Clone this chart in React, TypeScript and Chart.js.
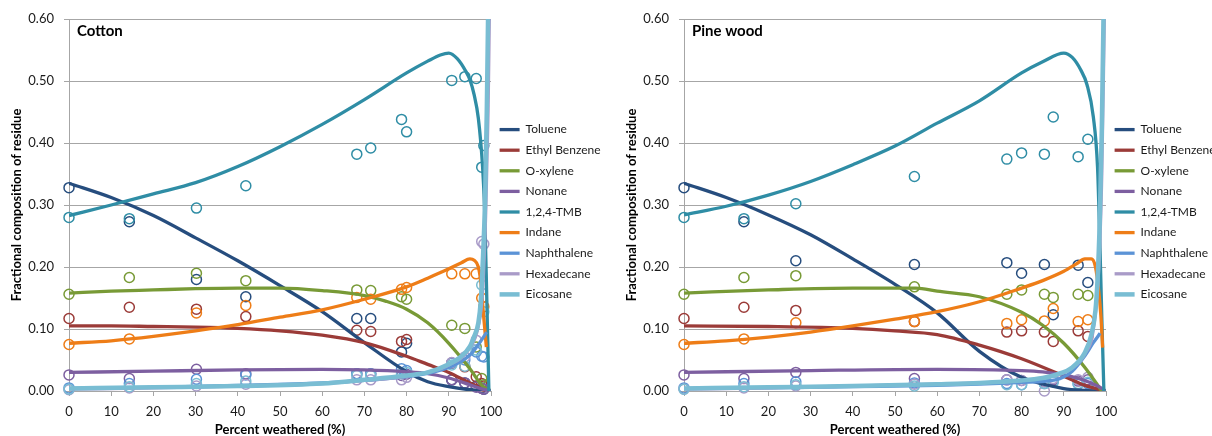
import React, { useEffect, useRef } from "react";
import { Chart, registerables } from "chart.js";

Chart.register(...registerables);

const FONT = "Lato, 'Liberation Sans', sans-serif";
Chart.defaults.font.family = FONT;

const compounds = ["Toluene", "Ethyl Benzene", "O-xylene", "Nonane", "1,2,4-TMB", "Indane", "Naphthalene", "Hexadecane", "Eicosane"];
const colors = ["#264D7E", "#9B3B38", "#789A36", "#7D5FA0", "#2F8DA5", "#EE7D17", "#5B93D6", "#A99BC8", "#79BDD3"];
const lineWidths = [3.3, 3.3, 3.3, 3.3, 3.3, 3.3, 3.3, 3.3, 4.5];
const xTitle = "Percent weathered (%)";
const yTitle = "Fractional composition of residue";

// ---- Cotton: measured fractions ----
const cottonX = [0, 14.3, 30.2, 41.9, 68.2, 71.5, 78.8, 80.0, 90.7, 93.8, 96.5, 97.8, 98.3];
const cottonToluene = [0.328, 0.273, 0.180, 0.152, 0.117, 0.117, 0.063, 0.077, 0.018, 0.013, 0.008, 0.005, 0.003];
const cottonEthylBenzene = [0.117, 0.135, 0.132, 0.120, 0.098, 0.096, 0.080, 0.083, 0.045, 0.039, 0.023, 0.012, 0.008];
const cottonOxylene = [0.156, 0.183, 0.190, 0.178, 0.163, 0.162, 0.152, 0.148, 0.106, 0.101, 0.071, 0.020, 0.010];
const cottonNonane = [0.026, 0.020, 0.035, 0.028, 0.028, 0.028, 0.025, 0.027, 0.018, 0.013, 0.006, 0.004, 0.003];
const cottonTmb = [0.280, 0.278, 0.295, 0.331, 0.382, 0.392, 0.438, 0.418, 0.501, 0.507, 0.504, 0.361, 0.396];
const cottonIndane = [0.075, 0.084, 0.126, 0.138, 0.151, 0.148, 0.164, 0.167, 0.189, 0.189, 0.189, 0.150, 0.136];
const cottonNaphthalene = [0.005, 0.012, 0.019, 0.026, 0.028, 0.028, 0.036, 0.033, 0.045, 0.050, 0.063, 0.056, 0.055];
const cottonHexadecane = [0.002, 0.005, 0.008, 0.011, 0.018, 0.018, 0.018, 0.022, 0.046, 0.055, 0.082, 0.241, 0.237];
const cottonEicosane = [0.003, 0.007, 0.012, 0.016, 0.025, 0.025, 0.028, 0.030, 0.042, 0.040, 0.066, 0.171, 0.128];

// ---- Cotton: model curves [x, y] ----
const cottonTolueneFit = [[0, 0.335], [10, 0.312], [20, 0.283], [30, 0.247], [40, 0.21], [50, 0.17], [60, 0.128], [70, 0.078], [80, 0.031], [85, 0.015], [90, 0.007], [95, 0.002], [100, 0]];
const cottonEthylBenzeneFit = [[0, 0.105], [10, 0.105], [20, 0.104], [30, 0.103], [40, 0.101], [50, 0.097], [60, 0.09], [70, 0.078], [80, 0.056], [85, 0.043], [90, 0.03], [95, 0.013], [98, 0.004], [100, 0]];
const cottonOxyleneFit = [[0, 0.158], [10, 0.161], [20, 0.163], [30, 0.165], [40, 0.166], [50, 0.166], [60, 0.162], [70, 0.154], [75, 0.145], [80, 0.132], [85, 0.11], [90, 0.077], [95, 0.036], [98, 0.008], [100, 0]];
const cottonNonaneFit = [[0, 0.03], [20, 0.032], [40, 0.034], [60, 0.035], [70, 0.034], [80, 0.031], [85, 0.028], [90, 0.021], [95, 0.01], [98, 0.003], [100, 0]];
const cottonTmbFit = [[0, 0.283], [10, 0.3], [20, 0.318], [30, 0.336], [40, 0.362], [50, 0.394], [60, 0.43], [70, 0.47], [80, 0.513], [85, 0.532], [88, 0.542], [90, 0.545], [92, 0.536], [94, 0.516], [95, 0.502], [96, 0.478], [97, 0.44], [98, 0.362], [98.5, 0.29], [99, 0.15], [99.5, 0]];
const cottonIndaneFit = [[0, 0.077], [10, 0.081], [20, 0.088], [30, 0.097], [40, 0.107], [50, 0.119], [60, 0.131], [70, 0.148], [80, 0.168], [85, 0.182], [90, 0.197], [93, 0.207], [95, 0.213], [96, 0.211], [97, 0.2], [97.6, 0.175], [98.2, 0.125], [98.9, 0.071]];
const cottonNaphthaleneFit = [[0, 0.004], [20, 0.006], [40, 0.009], [60, 0.013], [70, 0.017], [80, 0.023], [90, 0.038], [95, 0.058], [97, 0.075], [99, 0.095]];
const cottonHexadecaneFit = [[0, 0.003], [20, 0.005], [40, 0.008], [60, 0.012], [70, 0.017], [80, 0.024], [90, 0.042], [95, 0.07], [97, 0.105], [98, 0.16], [98.8, 0.3], [99.3, 0.45], [99.6, 0.6]];
const cottonEicosaneFit = [[0, 0.004], [20, 0.006], [40, 0.008], [60, 0.012], [70, 0.018], [80, 0.025], [85, 0.03], [90, 0.043], [93, 0.056], [95, 0.072], [96, 0.088], [97, 0.11], [97.6, 0.147], [98, 0.2], [98.6, 0.31], [99, 0.45], [99.3, 0.6]];

// ---- Pine wood: measured fractions ----
const pineX = [0, 14.2, 26.5, 54.6, 76.5, 80.0, 85.4, 87.5, 93.4, 95.7];
const pineToluene = [0.328, 0.273, 0.210, 0.204, 0.207, 0.190, 0.204, 0.123, 0.203, 0.175];
const pineEthylBenzene = [0.117, 0.135, 0.130, 0.112, 0.095, 0.097, 0.095, 0.080, 0.097, 0.088];
const pineOxylene = [0.156, 0.183, 0.186, 0.168, 0.156, 0.163, 0.156, 0.151, 0.156, 0.154];
const pineNonane = [0.026, 0.020, 0.030, 0.020, 0.018, 0.017, 0.015, 0.018, 0.016, 0.018];
const pineTmb = [0.280, 0.278, 0.302, 0.346, 0.374, 0.384, 0.382, 0.442, 0.378, 0.406];
const pineIndane = [0.075, 0.084, 0.110, 0.112, 0.109, 0.115, 0.113, 0.133, 0.112, 0.115];
const pineNaphthalene = [0.005, 0.012, 0.015, 0.013, 0.012, 0.010, 0.012, 0.015, 0.011, 0.012];
const pineHexadecane = [0.003, 0.005, 0.008, 0.011, 0.018, 0.017, 0.000, 0.020, 0.018, 0.022];
const pineEicosane = [0.003, 0.007, 0.010, 0.008, 0.010, 0.010, 0.012, 0.015, 0.012, 0.014];

// ---- Pine wood: model curves [x, y] ----
const pineTolueneFit = [[0, 0.335], [10, 0.312], [20, 0.284], [30, 0.252], [40, 0.213], [50, 0.172], [60, 0.126], [70, 0.064], [80, 0.022], [90, 0.004], [95, 0.001], [100, 0]];
const pineEthylBenzeneFit = [[0, 0.105], [20, 0.104], [40, 0.101], [50, 0.097], [60, 0.091], [70, 0.074], [80, 0.052], [90, 0.024], [95, 0.009], [100, 0]];
const pineOxyleneFit = [[0, 0.158], [20, 0.163], [40, 0.166], [55, 0.166], [60, 0.161], [70, 0.152], [80, 0.127], [85, 0.106], [90, 0.077], [95, 0.038], [99, 0]];
const pineNonaneFit = [[0, 0.03], [30, 0.033], [60, 0.035], [80, 0.033], [85, 0.031], [90, 0.026], [95, 0.017], [98, 0.008], [100, 0]];
const pineTmbFit = [[0, 0.284], [10, 0.298], [20, 0.316], [30, 0.338], [40, 0.365], [50, 0.395], [60, 0.432], [70, 0.468], [80, 0.513], [85, 0.531], [90, 0.545], [92, 0.538], [94, 0.518], [95.5, 0.494], [97, 0.442], [98, 0.36], [98.5, 0.25], [99, 0.12], [99.5, 0]];
const pineIndaneFit = [[0, 0.077], [10, 0.081], [20, 0.087], [30, 0.095], [40, 0.105], [50, 0.116], [60, 0.128], [70, 0.144], [80, 0.166], [85, 0.178], [90, 0.193], [93, 0.205], [95, 0.213], [96.5, 0.213], [97.5, 0.2], [98.3, 0.16], [98.8, 0.12], [99.2, 0.07]];
const pineNaphthaleneFit = [[0, 0.004], [20, 0.005], [40, 0.007], [60, 0.009], [70, 0.011], [80, 0.014], [88, 0.018], [92, 0.032], [95, 0.057], [97, 0.078], [98.6, 0.093]];
const pineHexadecaneFit = [[0, 0.003], [20, 0.005], [40, 0.008], [60, 0.011], [70, 0.013], [80, 0.017], [88, 0.025], [92, 0.037], [95, 0.06], [97, 0.1], [98.3, 0.2], [99, 0.35], [99.6, 0.6]];
const pineEicosaneFit = [[0, 0.004], [20, 0.006], [40, 0.008], [60, 0.011], [70, 0.013], [80, 0.017], [85, 0.021], [88, 0.026], [92, 0.038], [95, 0.062], [96.5, 0.09], [97.5, 0.13], [98, 0.18], [98.5, 0.27], [99, 0.42], [99.4, 0.6]];

const GRID = "#A6A6A6";
const TEXT = "#1a1a1a";
const PLOT_LEFT = 69;
const PLOT_RIGHT = 491;
const PLOT_TOP = 19;
const CANVAS_H = 436;
const PLOT_BOTTOM = 391;

type PanelProps = {
  title: string;
  xs: number[];
  obs: number[][];
  fits: number[][][];
  left: number;
  width: number;
};

function Panel({ title, xs, obs, fits, left, width }: PanelProps) {
  const ref = useRef<HTMLCanvasElement>(null);

  useEffect(() => {
    if (!ref.current) return;
    const fitSets = fits.map((pts, i) => ({
      label: compounds[i],
      data: pts.map(([x, y]) => ({ x, y })),
      showLine: true,
      borderColor: colors[i],
      backgroundColor: colors[i],
      borderWidth: lineWidths[i],
      pointRadius: 0,
      pointHoverRadius: 0,
      cubicInterpolationMode: "monotone",
      order: 8 - i,
    }));
    const obsSets = obs.map((ys, i) => ({
      label: compounds[i] + " measured",
      data: xs.map((x, k) => ({ x, y: ys[k] })),
      showLine: false,
      borderColor: colors[i],
      backgroundColor: "rgba(0,0,0,0)",
      pointBorderColor: colors[i],
      pointBackgroundColor: "rgba(0,0,0,0)",
      pointRadius: 5,
      pointBorderWidth: 1.5,
      pointHoverRadius: 5,
      clip: false,
      order: 20 + 8 - i,
    }));

    const panelPlugin = {
      id: "panelPlugin",
      afterInit(chart: any) {
        const legend = chart.legend;
        if (legend && !legend.__patched) {
          const origFit = legend.fit;
          legend.fit = function () {
            origFit.call(this);
            this.width = width - PLOT_RIGHT;
          };
          legend.__patched = true;
        }
      },
      afterLayout(chart: any) {
        const legend = chart.legend;
        if (legend) {
          legend.top += 7;
          legend.bottom += 7;
        }
      },
      afterDraw(chart: any) {
        const ctx = chart.ctx;
        ctx.save();
        ctx.font = `bold 15px ${FONT}`;
        ctx.fillStyle = "#000";
        ctx.textBaseline = "middle";
        ctx.textAlign = "left";
        ctx.fillText(title, chart.chartArea.left + 8, chart.chartArea.top + 12);
        ctx.restore();
      },
    };

    const chart = new Chart(ref.current, {
      type: "scatter",
      data: { datasets: [...fitSets, ...obsSets] as any },
      options: {
        responsive: false,
        animation: false,
        events: [],
        layout: { padding: { top: PLOT_TOP, right: 0, bottom: 0, left: 0 } },
        plugins: {
          tooltip: { enabled: false },
          legend: {
            position: "right",
            fullSize: false,
            align: "center",
            labels: {
              filter: (item: any) => item.datasetIndex < 9,
              sort: (a: any, b: any) => a.datasetIndex - b.datasetIndex,
              usePointStyle: true,
              pointStyle: "line",
              pointStyleWidth: 20,
              padding: 8.6,
              color: TEXT,
              font: { size: 12, family: FONT },
            },
          },
        },
        scales: {
          x: {
            type: "linear",
            min: 0,
            max: 100,
            ticks: { stepSize: 10, color: TEXT, font: { size: 13 }, padding: 8, maxRotation: 0 },
            grid: { display: true, drawOnChartArea: false, drawTicks: true, tickLength: 5, color: GRID },
            border: { display: true, color: GRID },
            title: {
              display: true,
              text: xTitle,
              color: "#000",
              font: { size: 13, weight: "bold", lineHeight: 1 },
              padding: { top: 0, bottom: 0 },
            },
            afterFit: (s: any) => {
              s.height = CANVAS_H - PLOT_BOTTOM;
            },
          },
          y: {
            type: "linear",
            min: 0,
            max: 0.6,
            ticks: {
              stepSize: 0.1,
              color: TEXT,
              font: { size: 13 },
              padding: 10,
              callback: (v: any) => Number(v).toFixed(2),
            },
            grid: { color: GRID, drawTicks: true, tickLength: 5 },
            border: { display: true, color: GRID },
            title: {
              display: true,
              text: yTitle,
              color: "#000",
              font: { size: 13, weight: "bold", lineHeight: 1 },
              padding: { top: 10, bottom: 0 },
            },
            afterFit: (s: any) => {
              s.width = PLOT_LEFT;
            },
          },
        },
      } as any,
      plugins: [panelPlugin],
    });
    return () => chart.destroy();
  }, []);

  return (
    <canvas
      ref={ref}
      width={width}
      height={CANVAS_H}
      style={{ position: "absolute", left, top: 0, width, height: CANVAS_H }}
    />
  );
}

export default function App() {
  const cottonObs = [cottonToluene, cottonEthylBenzene, cottonOxylene, cottonNonane, cottonTmb, cottonIndane, cottonNaphthalene, cottonHexadecane, cottonEicosane];
  const cottonFits = [cottonTolueneFit, cottonEthylBenzeneFit, cottonOxyleneFit, cottonNonaneFit, cottonTmbFit, cottonIndaneFit, cottonNaphthaleneFit, cottonHexadecaneFit, cottonEicosaneFit];
  const pineObs = [pineToluene, pineEthylBenzene, pineOxylene, pineNonane, pineTmb, pineIndane, pineNaphthalene, pineHexadecane, pineEicosane];
  const pineFits = [pineTolueneFit, pineEthylBenzeneFit, pineOxyleneFit, pineNonaneFit, pineTmbFit, pineIndaneFit, pineNaphthaleneFit, pineHexadecaneFit, pineEicosaneFit];
  return (
    <div
      style={{
        position: "fixed",
        left: 0,
        top: 0,
        width: 1212,
        height: 436,
        background: "#fff",
        overflow: "hidden",
      }}
    >
      <Panel title="Cotton" xs={cottonX} obs={cottonObs} fits={cottonFits} left={0} width={606} />
      <Panel title="Pine wood" xs={pineX} obs={pineObs} fits={pineFits} left={615} width={597} />
    </div>
  );
}
